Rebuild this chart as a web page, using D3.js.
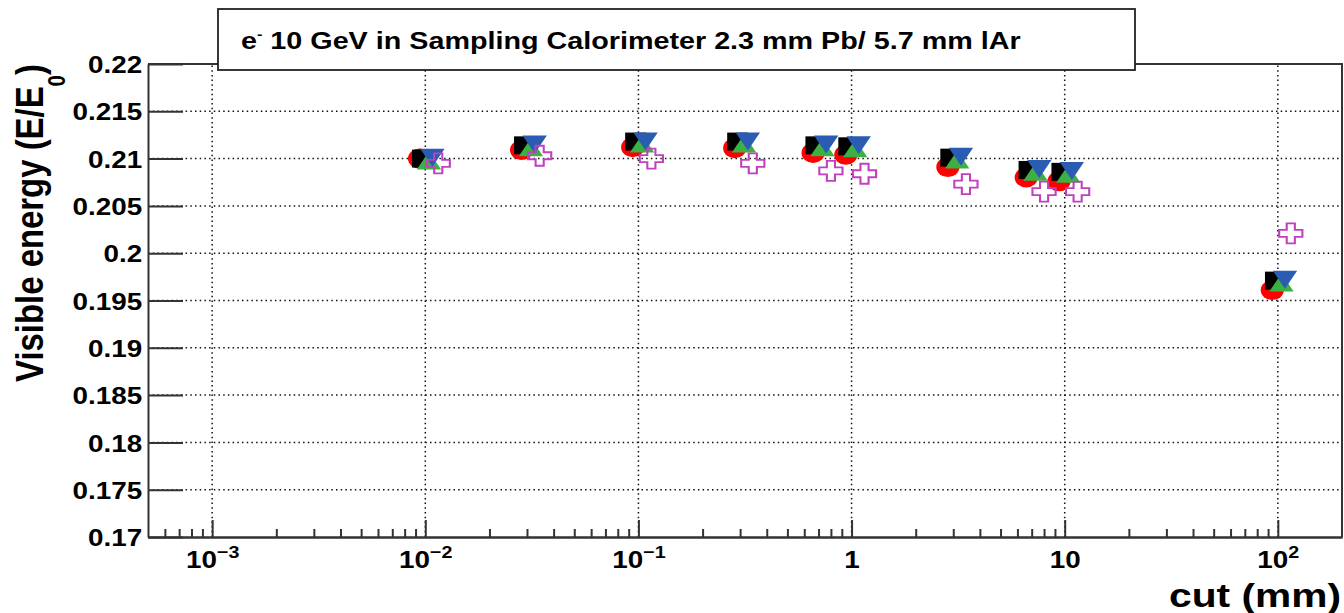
<!DOCTYPE html>
<meta charset="utf-8">

<head>
    <style>
        body { margin: 0; background: #fff; }
        text { font-family: "Liberation Sans", Arial, Helvetica, sans-serif; font-weight: bold; fill: #000; }
    </style>
</head>

<body>

    <script src="https://d3js.org/d3.v7.js"></script>

    <svg width="1344" height="613"></svg>

    <script>

        // cut values (mm) of each series (series are drawn slightly shifted in x)
        var cutsRed   = [0.0094, 0.0283, 0.094, 0.283, 0.66, 0.94, 2.83, 6.6, 9.4, 94.2];
        var cutsBlack = [0.0097, 0.0292, 0.097, 0.292, 0.68, 0.97, 2.92, 6.8, 9.7, 97.4];
        var cutsGreen = [0.0104, 0.0313, 0.104, 0.313, 0.73, 1.04, 3.13, 7.3, 10.4, 104];
        var cutsBlue  = [0.0108, 0.0326, 0.108, 0.326, 0.76, 1.08, 3.26, 7.6, 10.8, 108];
        var cutsCross = [0.0115, 0.0344, 0.115, 0.344, 0.80, 1.15, 3.44, 8.0, 11.5, 115];

        // visible energy fractions
        var valRed   = [0.2100, 0.2109, 0.2112, 0.2111, 0.2106, 0.2104, 0.2091, 0.2080, 0.2076, 0.1961];
        var valBlack = [0.2100, 0.2114, 0.2118, 0.2118, 0.2114, 0.2113, 0.2101, 0.2088, 0.2086, 0.1971];
        var valGreen = [0.2098, 0.2112, 0.2116, 0.2116, 0.2112, 0.2111, 0.2099, 0.2086, 0.2084, 0.1969];
        var valBlue  = [0.2101, 0.2115, 0.2118, 0.2118, 0.2115, 0.2114, 0.2102, 0.2089, 0.2087, 0.1972];
        var valCross = [0.2095, 0.2103, 0.2100, 0.2095, 0.2087, 0.2084, 0.2073, 0.2065, 0.2065, 0.2021];

        // axis ticks
        var yTicks = [0.17, 0.175, 0.18, 0.185, 0.19, 0.195, 0.2, 0.205, 0.21, 0.215, 0.22];
        var yTickLabels = ["0.17", "0.175", "0.18", "0.185", "0.19", "0.195", "0.2", "0.205", "0.21", "0.215", "0.22"];
        var xDecades = [1e-3, 1e-2, 1e-1, 1, 10, 100];
        var xTickBase = ["10", "10", "10", "1", "10", "10"];
        var xTickExp = ["\u22123", "\u22122", "\u22121", "", "", "2"];

        var svg = d3.select("svg"),
            plotLeft = 148, plotRight = 1342, plotTop = 64, plotBottom = 537,
            sx = 1.16; // the original picture is stretched sideways

        var axisColor = "#333";

        var xScale = d3.scaleLog().domain([5e-4, 200]).range([plotLeft, plotRight]);
        var yScale = d3.scaleLinear().domain([0.17, 0.22]).range([plotBottom, plotTop]);

        // dotted grid
        var grid = svg.append("g").attr("stroke", "#111").attr("stroke-width", 1.5)
            .attr("stroke-dasharray", "1.5,3.2");
        grid.selectAll(".gx").data(xDecades).enter().append("line")
            .attr("x1", d => xScale(d)).attr("x2", d => xScale(d))
            .attr("y1", plotBottom).attr("y2", plotTop);
        grid.selectAll(".gy").data(yTicks.slice(1, -1)).enter().append("line")
            .attr("x1", plotLeft).attr("x2", plotRight)
            .attr("y1", d => yScale(d)).attr("y2", d => yScale(d));

        // frame top and right
        svg.append("path")
            .attr("d", "M" + plotLeft + "," + plotTop + "H" + plotRight + "V" + plotBottom)
            .attr("fill", "none").attr("stroke", axisColor).attr("stroke-width", 2);

        // y axis
        var yAxis = svg.append("g")
            .attr("transform", "translate(" + plotLeft + ",0)")
            .call(d3.axisLeft(yScale).tickValues(yTicks)
                .tickFormat((d, i) => yTickLabels[i])
                .tickSizeInner(-35).tickSizeOuter(0).tickPadding(6));
        yAxis.selectAll("line, path").attr("stroke", axisColor).attr("stroke-width", 2);
        yAxis.selectAll("text")
            .attr("font-size", 24)
            .attr("font-family", null)
            .attr("x", -5)
            .attr("dy", "0.36em")
            .attr("transform", "scale(" + sx + ",1)");

        // x axis: minor ticks then majors with labels
        var minors = xScale.ticks().filter(function (d) {
            var l = Math.log10(d);
            return Math.abs(l - Math.round(l)) > 1e-6 && d > 5.01e-4 && d < 199;
        });
        var xMinor = svg.append("g")
            .attr("transform", "translate(0," + plotBottom + ")")
            .call(d3.axisBottom(xScale).tickValues(minors).tickFormat("")
                .tickSizeInner(-8).tickSizeOuter(0));
        xMinor.selectAll("line, path").attr("stroke", axisColor).attr("stroke-width", 2);

        var xAxis = svg.append("g")
            .attr("transform", "translate(0," + plotBottom + ")")
            .call(d3.axisBottom(xScale).tickValues(xDecades).tickFormat("")
                .tickSizeInner(-17).tickSizeOuter(0));
        xAxis.selectAll("line, path").attr("stroke", axisColor).attr("stroke-width", 2);
        xAxis.selectAll(".tick").each(function (d, i) {
            var t = d3.select(this).append("text")
                .attr("y", 31)
                .attr("text-anchor", "middle")
                .attr("font-size", 24)
                .attr("transform", "scale(" + sx + ",1)");
            t.append("tspan").text(xTickBase[i]);
            if (xTickExp[i]) t.append("tspan").attr("font-size", 17).attr("dy", -10).text(xTickExp[i]);
        });

        // markers
        function place(xs, ys) {
            return xs.map(function (x, i) { return { x: x, y: ys[i] }; });
        }
        function at(d) {
            return "translate(" + xScale(d.x) + "," + yScale(d.y) + ") scale(" + sx + ",1)";
        }
        var marks = svg.append("g");

        marks.selectAll(".red").data(place(cutsRed, valRed)).enter().append("circle")
            .attr("r", 10).attr("fill", "#ff0000").attr("transform", at);

        marks.selectAll(".black").data(place(cutsBlack, valBlack)).enter().append("rect")
            .attr("x", -9).attr("y", -9).attr("width", 18).attr("height", 18)
            .attr("fill", "#000").attr("transform", at);

        marks.selectAll(".green").data(place(cutsGreen, valGreen)).enter().append("path")
            .attr("d", "M-10.5,9L10.5,9L0,-9Z")
            .attr("fill", "#3cb043").attr("transform", at);

        marks.selectAll(".blue").data(place(cutsBlue, valBlue)).enter().append("path")
            .attr("d", "M-10.5,-9L10.5,-9L0,9Z")
            .attr("fill", "#2a5cb4").attr("transform", at);

        var a = 10, b = 3.5;
        var crossPath = "M" + [[-b, -a], [b, -a], [b, -b], [a, -b], [a, b], [b, b], [b, a], [-b, a], [-b, b], [-a, b], [-a, -b], [-b, -b]]
            .map(p => p.join(",")).join("L") + "Z";
        marks.selectAll(".cross").data(place(cutsCross, valCross)).enter().append("path")
            .attr("d", crossPath)
            .attr("fill", "none").attr("stroke", "#c040c0").attr("stroke-width", 1.8)
            .attr("transform", at);

        // title box
        svg.append("rect")
            .attr("x", 218).attr("y", 9).attr("width", 917).attr("height", 61)
            .attr("fill", "#fff").attr("stroke", "#222").attr("stroke-width", 1.8);
        var title = svg.append("g");
        var tt = title.append("text").attr("font-size", 23);
        tt.append("tspan").text("e");
        tt.append("tspan").attr("font-size", 13).attr("dy", -10).text("-");
        tt.append("tspan").attr("dy", 10).text(" 10 GeV in Sampling Calorimeter 2.3 mm Pb/ 5.7 mm lAr");
        var k = 780 / tt.node().getComputedTextLength();
        title.attr("transform", "translate(241,49) scale(" + k + ",1)");

        // y axis title
        var yt = svg.append("g");
        var ytt = yt.append("text").attr("text-anchor", "end").attr("font-size", 32);
        ytt.append("tspan").text("Visible energy (E/E");
        ytt.append("tspan").attr("font-size", 20).attr("dy", 18).text("0");
        ytt.append("tspan").attr("dy", -18).text(")");
        var ky = 318 / ytt.node().getComputedTextLength();
        yt.attr("transform", "translate(43,64) scale(1.2,1) rotate(-90) scale(" + ky + ",1)");

        // x axis title
        var xt = svg.append("g");
        var xtt = xt.append("text").attr("text-anchor", "end").attr("font-size", 34).text("cut (mm)");
        var kx = 172 / xtt.node().getComputedTextLength();
        xt.attr("transform", "translate(1341,607) scale(" + kx + ",1)");

    </script>
</body>
</html>
